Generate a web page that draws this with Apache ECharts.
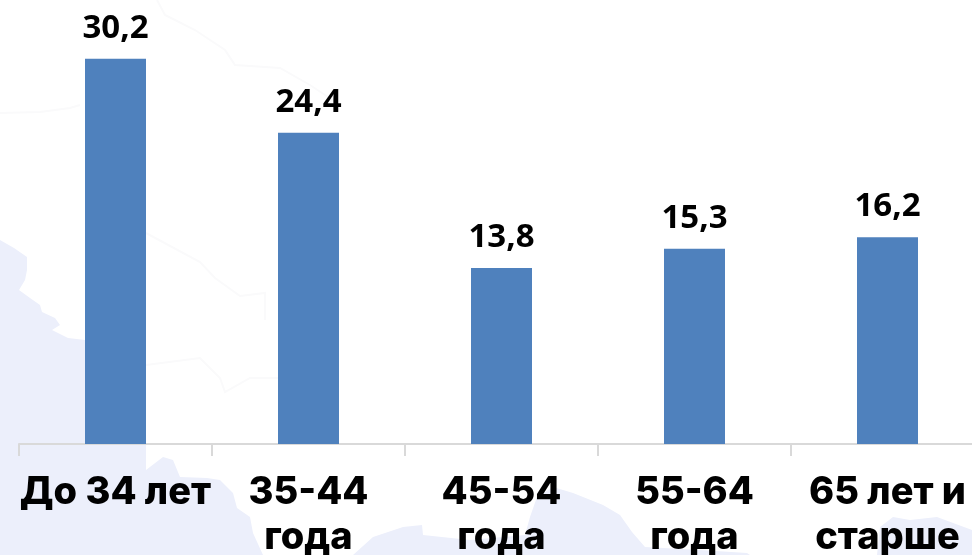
<!DOCTYPE html>
<html>
<head>
<meta charset="utf-8">
<style>
html, body { margin: 0; padding: 0; background: #fff; overflow: hidden; }
#chart { width: 972px; height: 555px; }
</style>
<script src="https://cdn.jsdelivr.net/npm/echarts@6/dist/echarts.min.js"></script>
</head>
<body>
<div id="chart"></div>
<script>
const categories = ['До 34 лет', '35-44\nгода', '45-54\nгода', '55-64\nгода', '65 лет и\nстарше'];
const values = [30.2, 24.4, 13.8, 15.3, 16.2];

// faint map behind the chart
const mapFill = '#eceffb';
const borderColor = '#fafafb';
const leftShape = [[0,240],[14,248],[27,257],[27,270],[25,280],[19,290],[30,298],[40,305],[42,312],[55,318],[60,325],[52,330],[68,338],[85,340],[146,340],[146,470],[163,457],[173,460],[180,477],[207,478],[220,480],[233,493],[237,508],[250,517],[253,533],[263,555],[0,555]];
const midShape = [[353,555],[373,537],[403,527],[422,525],[423,535],[470,540],[525,535],[530,517],[537,497],[553,487],[573,493],[603,505],[620,515],[632,532],[645,547],[700,550],[747,553],[750,555]];
const rightShape = [[877,555],[880,527],[893,517],[910,520],[937,517],[972,530],[972,555]];
const borderLines = [
  [[157,0],[165,15],[195,30],[225,50],[235,65],[280,68],[310,85],[340,105]],
  [[0,113],[40,112],[70,108],[80,105]],
  [[146,233],[200,262],[215,278],[240,296],[265,293],[265,320]],
  [[146,365],[200,358],[220,378],[225,392],[250,378],[280,378]]
];

const chart = echarts.init(document.getElementById('chart'));
chart.setOption({
  animation: false,
  grid: { left: 19, width: 965, top: 0, height: 444, outerBoundsMode: 'none' },
  xAxis: {
    type: 'category',
    data: categories,
    axisLine: { lineStyle: { color: '#d9d9d9', width: 2 } },
    axisTick: { show: true, length: 12, lineStyle: { color: '#d9d9d9', width: 2 } },
    axisLabel: {
      interval: 0,
      margin: 26,
      color: '#000',
      fontFamily: 'Inter',
      fontWeight: 800,
      fontSize: 38,
      lineHeight: 45,
      hideOverlap: false
    }
  },
  yAxis: { type: 'value', min: 0, max: 34.8, show: false },
  series: [{
    type: 'bar',
    data: values,
    barWidth: 61,
    itemStyle: { color: '#4f81bd' },
    label: {
      show: true,
      position: 'top',
      distance: 14,
      color: '#000',
      fontFamily: 'Open Sans',
      fontWeight: 700,
      fontSize: 33,
      formatter: p => String(p.value).replace('.', ',')
    }
  }],
  graphic: [leftShape, midShape, rightShape].map(points => ({
    type: 'polygon',
    silent: true,
    z: -10,
    shape: { points: points },
    style: { fill: mapFill }
  })).concat(borderLines.map(points => ({
    type: 'polyline',
    silent: true,
    z: -10,
    shape: { points: points },
    style: { fill: null, stroke: borderColor, lineWidth: 2 }
  })))
});
</script>
</body>
</html>
